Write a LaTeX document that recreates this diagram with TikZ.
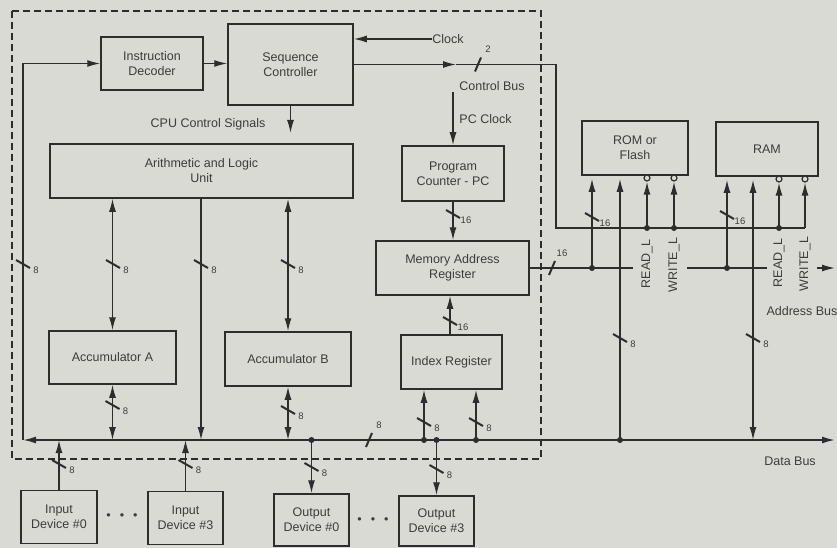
\documentclass[tikz,border=0pt]{standalone}
\usepackage{fontspec}
\setmainfont{Liberation Sans}
\usetikzlibrary{arrows.meta}
\definecolor{bg}{RGB}{218,218,213}
\definecolor{ink}{RGB}{45,45,45}
\definecolor{txt}{RGB}{60,60,60}
\tikzset{
  box/.style={draw=ink, line width=1.5pt, align=center, text=txt, font=\fontsize{12.5}{15}\selectfont, inner sep=2pt},
  wire/.style={draw=ink, line width=1.4pt},
  tip/.tip={Latex[length=13pt,width=7pt]},
  arr/.style={wire, -tip},
  darr/.style={wire, tip-tip},
  lbl/.style={text=txt, font=\fontsize{12.5}{14}\selectfont, inner sep=0pt},
  num/.style={text=txt, font=\fontsize{9.5}{10}\selectfont, inner sep=0pt},
  dot/.style={circle, fill=ink, inner sep=0pt, minimum size=6pt},
  bubble/.style={circle, draw=ink, line width=1.2pt, fill=bg, inner sep=0pt, minimum size=6pt},
  slashln/.style={draw=ink, line width=2pt},
}
\newcommand\vslash[4]{%
  \draw[slashln] (#2-7,#3-4) -- (#2+7,#3+4);
  \node[num] (#1) at (#2+13,#3+6) {#4};}
\newcommand\hslash[4]{%
  \draw[slashln] (#2-3,#3+7) -- (#2+3,#3-7);
  \node[num] (#1) at (#2+10,#3-15) {#4};}
\begin{document}
\begin{tikzpicture}[x=1pt,y=-1pt]
\fill[bg] (0,0) rectangle (837,548);
\useasboundingbox (0,0) rectangle (837,548);
% CPU boundary
\draw[ink, line width=1.4pt, dash pattern=on 7pt off 4pt] (12,11) rectangle (541,459);

% blocks
\node[box, minimum width=102pt, minimum height=53pt] (id) at (152,63.5) {Instruction\\Decoder};
\node[box, minimum width=125pt, minimum height=81pt] (sc) at (290.5,64.5) {Sequence\\Controller};
\node[box, minimum width=303pt, minimum height=54pt] (alu) at (201.5,171) {Arithmetic and Logic\\Unit};
\node[box, minimum width=102pt, minimum height=55pt] (pc) at (453,173.5) {Program\\Counter - PC};
\node[box, minimum width=153pt, minimum height=54pt] (mar) at (452.5,268) {Memory Address\\Register};
\node[box, minimum width=127pt, minimum height=53pt] (acca) at (112.5,357.5) {Accumulator A};
\node[box, minimum width=126pt, minimum height=54pt] (accb) at (288,359) {Accumulator B};
\node[box, minimum width=101pt, minimum height=54pt] (ir) at (451.5,362) {Index Register};
\node[box, minimum width=106pt, minimum height=54pt] (rom) at (635,148) {ROM or\\Flash};
\node[box, minimum width=102pt, minimum height=54pt] (ram) at (767,149) {RAM};
\node[box, minimum width=76pt, minimum height=53pt] (in0) at (59,517) {Input\\Device \#0};
\node[box, minimum width=75pt, minimum height=53pt] (in3) at (185.5,518) {Input\\Device \#3};
\node[box, minimum width=75pt, minimum height=52pt] (out0) at (311.5,520) {Output\\Device \#0};
\node[box, minimum width=75pt, minimum height=50pt] (out3) at (436.5,521) {Output\\Device \#3};

% labels
\node[lbl] (clock) at (448,39) {Clock};
\node[lbl] (cbus) at (492,86) {Control Bus};
\node[lbl] (pcclklbl) at (485.5,119) {PC Clock};
\node[lbl] (cpucs) at (208,124) {CPU Control Signals};
\node[lbl] (abus) at (802,311) {Address Bus};
\node[lbl] (dbus) at (790,461) {Data Bus};
\node[lbl, rotate=90] (rl1) at (647,264) {READ\_L};
\node[lbl, rotate=90] (wl1) at (674,265) {WRITE\_L};
\node[lbl, rotate=90] (rl2) at (779,263) {READ\_L};
\node[lbl, rotate=90] (wl2) at (805,264) {WRITE\_L};
\node[lbl] (ell1) at (122,517) {•\hspace{9pt}•\hspace{9pt}•};
\node[lbl] (ell2) at (373,521) {•\hspace{9pt}•\hspace{9pt}•};

% data bus
\coordinate (busL) at (23,440);
\coordinate (busR) at (835,440);
\draw[darr, line width=1.8pt] (busL) -- (busR);
\draw[arr] (busL) |- (id.west);
\draw[arr] (id.east) -- (id.east -| sc.west);
\draw[arr] (clock.west) -- (clock.west -| sc.east);

% control bus
\coordinate (cbm) at (456,64.5);
\coordinate (cb1) at (556,64.5);
\coordinate (cb2) at (556,228);
\coordinate (cb3) at (805,228);
\draw[arr] (sc.east) -- (cbm);
\draw[wire] (cbm) -- (cb1) -- (cb2) -- (cb3);
\node[bubble] (b1) at (647,178) {};
\node[bubble] (b2) at (674,178) {};
\node[bubble] (b3) at (779,179) {};
\node[bubble] (b4) at (805,179) {};
\coordinate (r1) at (647,228);
\coordinate (r2) at (674,228);
\coordinate (r3) at (779,228);
\draw[arr] (r1) -- (b1.south);
\draw[arr] (r2) -- (b2.south);
\draw[arr] (r3) -- (b3.south);
\draw[arr] (cb3) -- (b4.south);
\node[dot] (d1) at (r1) {};
\node[dot] (d2) at (r2) {};
\node[dot] (d3) at (r3) {};

% CPU internal control
\coordinate (cse) at (290.5,133);
\draw[arr] (sc.south) -- (cse);
\coordinate (pcs) at (453,92);
\draw[arr] (pcs) -- (pc.north);
\draw[arr] (pc.south) -- (pc.south |- mar.north);
\draw[arr] (450,0 |- ir.north) -- (450,0 |- mar.south);

% ALU / accumulators
\draw[darr] (acca.north) -- (acca.north |- alu.south);
\draw[darr] (acca.south) -- (acca.south |- busL);
\draw[darr] (accb.north) -- (accb.north |- alu.south);
\draw[darr] (accb.south) -- (accb.south |- busL);
\draw[arr] (201,0 |- alu.south) -- (201,0 |- busL);

% index register from bus
\coordinate (bi1) at (424,440);
\coordinate (bi2) at (476,440);
\draw[arr] (bi1) -- (bi1 |- ir.south);
\draw[arr] (bi2) -- (bi2 |- ir.south);
\node[dot] (dbi1) at (bi1) {};
\node[dot] (dbi2) at (bi2) {};

% I/O devices
\draw[arr] (in0.north) -- (in0.north |- busL);
\draw[arr] (in3.north) -- (in3.north |- busL);
\coordinate (bo0) at (311.5,440);
\coordinate (bo3) at (436.5,440);
\draw[arr] (bo0) -- (out0.north);
\draw[arr] (bo3) -- (out3.north);
\node[dot] (dbo0) at (bo0) {};
\node[dot] (dbo3) at (bo3) {};

% address bus
\coordinate (ab1) at (633,268);
\coordinate (ab2) at (687,268);
\coordinate (ab3) at (767,268);
\coordinate (ab4) at (817,268);
\coordinate (abR) at (835,268);
\draw[wire] (mar.east) -- (ab1);
\draw[wire] (ab2) -- (ab3);
\draw[arr] (ab4) -- (abR);
\coordinate (ra) at (592,268);
\coordinate (rra) at (727,268);
\draw[arr, shorten >=3pt] (ra) -- (ra |- rom.south);
\draw[arr, shorten >=3pt] (rra) -- (rra |- ram.south);
\node[dot] (dra) at (ra) {};
\node[dot] (drra) at (rra) {};

% memory data lines
\coordinate (rd) at (620,440);
\coordinate (rrd) at (753,440);
\draw[arr, shorten >=3pt] (rd) -- (rd |- rom.south);
\draw[darr, shorten <=3pt] (rrd |- ram.south) -- (rrd);
\node[dot] (drd) at (rd) {};

% bus width marks
\vslash{n1}{23}{264}{8}
\vslash{n2}{113}{264}{8}
\vslash{n3}{201}{264}{8}
\vslash{n4}{288}{264}{8}
\vslash{n5}{453}{214}{16}
\vslash{n6}{450}{321}{16}
\vslash{n7}{112.5}{405}{8}
\vslash{n8}{288}{410}{8}
\vslash{n9}{424}{422}{8}
\vslash{n10}{476}{422}{8}
\vslash{n11}{59}{464}{8}
\vslash{n12}{185.5}{464}{8}
\vslash{n13}{311.5}{467}{8}
\vslash{n14}{436.5}{469}{8}
\vslash{n15}{592}{217}{16}
\vslash{n16}{727}{215}{16}
\vslash{n17}{620}{338}{8}
\vslash{n18}{753}{338}{8}
\hslash{h1}{478}{64.5}{2}
\hslash{h2}{369}{440}{8}
\hslash{h3}{552}{268}{16}
\end{tikzpicture}
\end{document}
